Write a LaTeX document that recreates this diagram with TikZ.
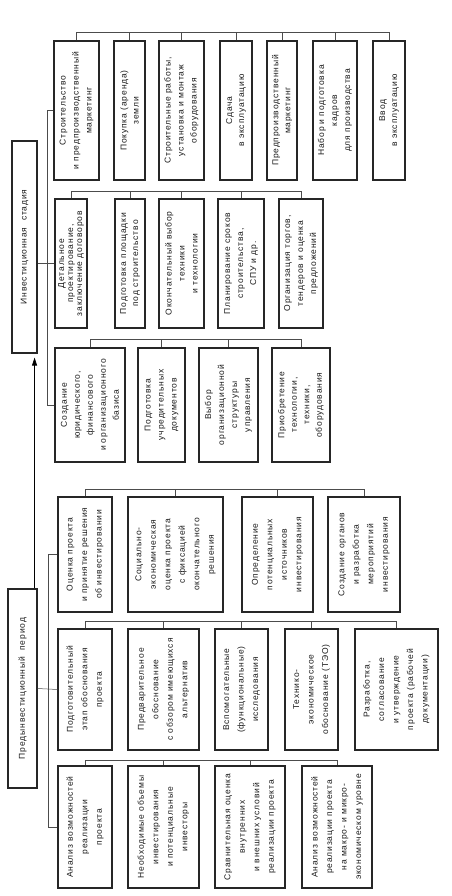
\documentclass[tikz,border=0pt]{standalone}
\usepackage{fontspec}
\setmainfont{Liberation Sans}[LetterSpace=10]
\usetikzlibrary{arrows.meta,calc}
\tikzset{
  box/.style={draw=black!85, line width=1.1pt, rotate=90, align=center, inner sep=1pt, text=black!90},
  conn/.style={draw=black!70, line width=0.5pt},
  arr/.style={draw=black, line width=0.8pt, -{Triangle[length=8pt,width=5pt]}, shorten >=4pt}
}
\newcommand\mybox[7]{\node[box, minimum width={(#5-#3)*1pt}, minimum height={(#4-#2)*1pt}, font=\fontsize{8.5}{#6}\selectfont] (#1) at ({(#2+#4)/2*1pt},{-(#3+#5)/2*1pt}) {#7};}
\begin{document}
\begin{tikzpicture}
\fill[white] (0,0) rectangle (451pt,-896pt);
\useasboundingbox (0,0) rectangle (451pt,-896pt);
% headers
\mybox{pre}{8}{589}{37}{788}{10}{Предынвестиционный\ \ период}
\mybox{inv}{12}{141}{37}{353}{10}{Инвестиционная\ \ стадия}
% column A
\mybox{A1}{58}{766}{112}{888}{14.5}{Анализ возможностей\\реализации\\проекта}
\mybox{A2}{128}{766}{199}{888}{14.5}{Необходимые объемы\\инвестирования\\и потенциальные\\инвесторы}
\mybox{A3}{215}{766}{285}{888}{14.5}{Сравнительная оценка\\внутренних\\и внешних условий\\реализации проекта}
\mybox{A4}{302}{766}{372}{888}{14.5}{Анализ возможностей\\реализации проекта\\на макро- и микро-\\экономическом уровне}
% column B
\mybox{B1}{58}{629}{112}{750}{14.5}{Подготовительный\\этап обоснования\\проекта}
\mybox{B2}{128}{629}{199}{750}{14.5}{Предварительное\\обоснование\\с обзором имеющихся\\альтернатив}
\mybox{B3}{215}{629}{268}{750}{14.5}{Вспомогательные\\(функциональные)\\исследования}
\mybox{B4}{285}{629}{338}{750}{14.5}{Технико-\\экономическое\\обоснование (ТЭО)}
\mybox{B5}{355}{629}{438}{750}{14.5}{Разработка,\\согласование\\и утверждение\\проекта (рабочей\\документации)}
% column C
\mybox{C1}{58}{497}{112}{612}{14.5}{Оценка проекта\\и принятие решения\\об инвестировании}
\mybox{C2}{128}{497}{223}{612}{14.5}{Социально-\\экономическая\\оценка проекта\\с фиксацией\\окончательного\\решения}
\mybox{C3}{242}{497}{313}{612}{14.5}{Определение\\потенциальных\\источников\\инвестирования}
\mybox{C4}{328}{497}{400}{612}{14.5}{Создание органов\\и разработка\\мероприятий\\инвестирования}
% column D
\mybox{D1}{55}{348}{125}{462}{13}{Создание\\юридического,\\финансового\\и организационного\\базиса}
\mybox{D2}{138}{348}{185}{462}{13}{Подготовка\\учредительных\\документов}
\mybox{D3}{199}{348}{258}{462}{13}{Выбор\\организационной\\структуры\\управления}
\mybox{D4}{272}{348}{330}{462}{12.5}{Приобретение\\технологии,\\техники,\\оборудования}
% column E
\mybox{E1}{55}{199}{87}{328}{9}{Детальное\\проектирование,\\заключение договоров}
\mybox{E2}{115}{199}{145}{328}{12}{Подготовка площадки\\под строительство}
\mybox{E3}{159}{199}{204}{328}{13}{Окончательный выбор\\техники\\и технологии}
\mybox{E4}{218}{199}{264}{328}{13}{Планирование сроков\\строительства,\\СПУ и др.}
\mybox{E5}{279}{199}{323}{328}{13}{Организация торгов,\\тендеров и оценка\\предложений}
% column F
\mybox{F1}{54}{41}{99}{180}{13}{Строительство\\и предпроизводственный\\маркетинг}
\mybox{F2}{114}{41}{145}{180}{12}{Покупка (аренда)\\земли}
\mybox{F3}{159}{41}{204}{180}{13}{Строительные работы,\\установка и монтаж\\оборудования}
\mybox{F4}{220}{41}{252}{180}{12}{Сдача\\в эксплуатацию}
\mybox{F5}{267}{41}{297}{180}{12}{Предпроизводственный\\маркетинг}
\mybox{F6}{313}{41}{357}{180}{13}{Набор и подготовка\\кадров\\для производства}
\mybox{F7}{373}{41}{405}{180}{12}{Ввод\\в эксплуатацию}
% main arrow
\draw[arr] ([xshift=-3pt]pre.south east) -- ([xshift=-3pt]inv.south west);
% pre-investment bus
\coordinate (pbus) at (48pt,-700pt);
\draw[conn] (C1.north) -- (C1.north -| pbus) -- (A1.north -| pbus) -- (A1.north);
\draw[conn] (pre.south) -- (B1.north);
% investment bus
\coordinate (ibus) at (47pt,-250pt);
\draw[conn] (F1.north) -- (F1.north -| ibus) -- (D1.north -| ibus) -- (D1.north);
\draw[conn] (inv.south |- E1.north) -- (E1.north);
% row lines
\draw[conn] (A1.east) -- ++(0,5pt) -| (A4.east);
\foreach \n in {A2,A3} \draw[conn] (\n.east) -- ++(0,5pt);
\draw[conn] (B1.east) -- ++(0,7pt) -| (B5.east);
\foreach \n in {B2,B3,B4} \draw[conn] (\n.east) -- ++(0,7pt);
\draw[conn] (C1.east) -- ++(0,7pt) -| (C4.east);
\foreach \n in {C2,C3} \draw[conn] (\n.east) -- ++(0,7pt);
\draw[conn] (D1.east) -- ++(0,8pt) -| (D4.east);
\foreach \n in {D2,D3} \draw[conn] (\n.east) -- ++(0,8pt);
\draw[conn] (E1.east) -- ++(0,7pt) -| (E5.east);
\foreach \n in {E2,E3,E4} \draw[conn] (\n.east) -- ++(0,7pt);
\draw[conn] (F1.east) -- ++(0,8pt) -| (F7.east);
\foreach \n in {F2,F3,F4,F5,F6} \draw[conn] (\n.east) -- ++(0,8pt);
\end{tikzpicture}
\end{document}
